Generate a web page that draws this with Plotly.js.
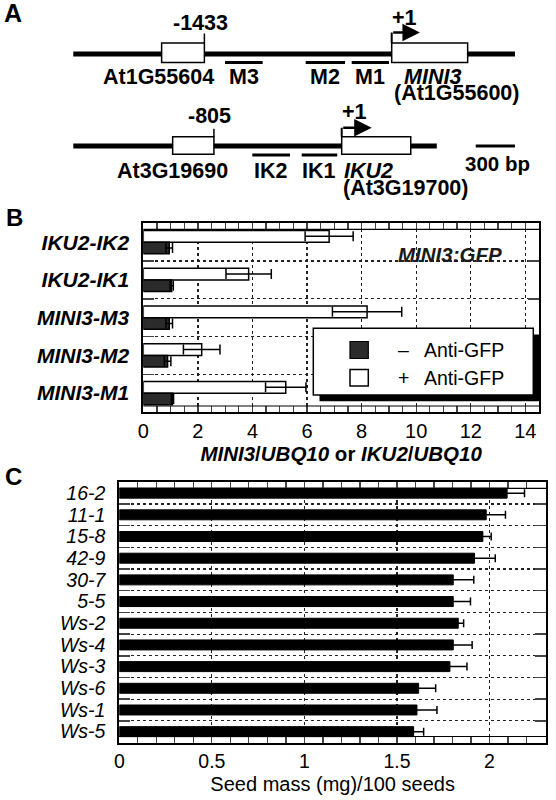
<!DOCTYPE html>
<html>
<head>
<meta charset="utf-8">
<script src="https://cdn.plot.ly/plotly-3.0.1.min.js"></script>
<style>body{margin:0;background:#fff}#plot{width:556px;height:800px}</style>
</head>
<body>
<div id="plot"></div>
<script>
// B: ChIP, +/- anti-GFP
var chipCats = ['IKU2-IK2', 'IKU2-IK1', 'MINI3-M3', 'MINI3-M2', 'MINI3-M1'];
var plusGFP = [6.81, 3.86, 8.2, 2.14, 5.22];
var plusErr = [0.88, 0.83, 1.27, 0.67, 0.74];
var minusGFP = [0.95, 1.04, 0.95, 0.89, 1.07];
var minusErr = [0.12, 0.06, 0.12, 0.12, 0.04];

// C: seed mass
var seedLines = ['16-2', '11-1', '15-8', '42-9', '30-7', '5-5', 'Ws-2', 'Ws-4', 'Ws-3', 'Ws-6', 'Ws-1', 'Ws-5'];
var seedMass = [2.095, 1.982, 1.964, 1.919, 1.804, 1.804, 1.831, 1.804, 1.786, 1.617, 1.608, 1.590];
var seedErr = [0.094, 0.104, 0.045, 0.112, 0.111, 0.093, 0.029, 0.102, 0.092, 0.092, 0.108, 0.054];

// A: bp from the +1 of each gene
var mini3Line = [-2436, 943];
var mini3Genes = ['At1G55604', 'MINI3'];
var mini3BoxStart = [-1760, 0];
var mini3BoxEnd = [-1433, 581];
var mini3Frags = ['M3', 'M2', 'M1'];
var mini3FragStart = [-1275, -658, -306];
var mini3FragEnd = [-987, -357, -21];
var mini3Arrow = 216;

var iku2Line = [-1691, 599];
var iku2Genes = ['At3G19690', 'IKU2'];
var iku2BoxStart = [-1065, 0];
var iku2BoxEnd = [-805, 435];
var iku2Frags = ['IK2', 'IK1'];
var iku2FragStart = [-563, -252];
var iku2FragEnd = [-326, -28];
var iku2Arrow = 189;
var scaleBar = [643, 943];

var F = 'Liberation Sans, Arial, Helvetica, sans-serif';
function px(v){ return v / 556; }
function py(v){ return 1 - v / 800; }

function fragTrace(starts, ends, yv, xa){
  var xs = [], ys = [];
  for (var i = 0; i < starts.length; i++){
    xs.push(starts[i], ends[i], null);
    ys.push(yv, yv, null);
  }
  return {x: xs, y: ys, xaxis: xa, yaxis: 'y3', mode: 'lines', line: {color: 'black', width: 3}, hoverinfo: 'skip'};
}

var data = [
  {type: 'bar', orientation: 'h', name: '+ Anti-GFP', y: chipCats, x: plusGFP,
   marker: {color: 'white', line: {color: 'black', width: 1.5}},
   error_x: {type: 'data', array: plusErr, color: 'black', thickness: 1.5, width: 5},
   xaxis: 'x', yaxis: 'y'},
  {type: 'bar', orientation: 'h', name: '– Anti-GFP', y: chipCats, x: minusGFP,
   marker: {color: '#2b2b2b', line: {color: 'black', width: 1.5}},
   error_x: {type: 'data', array: minusErr, color: 'black', thickness: 1.5, width: 5},
   xaxis: 'x', yaxis: 'y'},
  {type: 'bar', orientation: 'h', y: seedLines, x: seedMass, width: 0.46,
   marker: {color: 'black', line: {color: 'black', width: 1}},
   error_x: {type: 'data', array: seedErr, color: 'black', thickness: 1.5, width: 4},
   xaxis: 'x2', yaxis: 'y2'},
  {x: mini3Line, y: [54, 54], xaxis: 'x3', yaxis: 'y3', mode: 'lines', line: {color: 'black', width: 5}, hoverinfo: 'skip'},
  {x: iku2Line, y: [146, 146], xaxis: 'x4', yaxis: 'y3', mode: 'lines', line: {color: 'black', width: 5}, hoverinfo: 'skip'},
  {x: scaleBar, y: [146, 146], xaxis: 'x3', yaxis: 'y3', mode: 'lines', line: {color: 'black', width: 3}, hoverinfo: 'skip'},
  fragTrace(mini3FragStart, mini3FragEnd, 62.5, 'x3'),
  fragTrace(iku2FragStart, iku2FragEnd, 155, 'x4')
];

var shapes = [];
var ann = [];
function txt(text, xref, x, y, o){
  var a = {text: text, xref: xref, yref: xref === 'paper' ? 'paper' : 'y3', x: x, y: y, showarrow: false,
           xanchor: 'center', yanchor: 'middle',
           font: {family: F, size: 21.5, color: 'black', weight: 'bold'}};
  for (var k in o) a[k] = o[k];
  ann.push(a);
}

// gene rows
function geneRow(xa, starts, ends, top, bot, arrowY, tip){
  for (var i = 0; i < starts.length; i++){
    shapes.push({type: 'rect', xref: xa, yref: 'y3', x0: starts[i], x1: ends[i], y0: top, y1: bot,
                 fillcolor: 'white', line: {color: 'black', width: 1.5}});
  }
  // upstream gene end marker
  shapes.push({type: 'line', xref: xa, yref: 'y3', x0: ends[0], x1: ends[0], y0: top, y1: arrowY + 1, line: {color: 'black', width: 1.5}});
  // +1 arrow
  shapes.push({type: 'line', xref: xa, yref: 'y3', x0: 0, x1: 0, y0: top, y1: arrowY, line: {color: 'black', width: 2}});
  ann.push({xref: xa, yref: 'y3', axref: xa, ayref: 'y3', x: tip, y: arrowY, ax: 0, ay: arrowY, text: '',
            showarrow: true, arrowhead: 2, arrowsize: 1.4, arrowwidth: 2.5, arrowcolor: 'black', standoff: 0});
}
geneRow('x3', mini3BoxStart, mini3BoxEnd, 43, 62.5, 32.5, mini3Arrow);
geneRow('x4', iku2BoxStart, iku2BoxEnd, 136.7, 154.3, 127.7, iku2Arrow);

txt(String(mini3BoxEnd[0]), 'x3', mini3BoxEnd[0], 22.7, {xshift: -4});
txt('+1', 'x3', 0, 18.3, {xanchor: 'left', xshift: -2});
txt(mini3Genes[0], 'x3', mini3BoxEnd[0], 76.7, {xanchor: 'right', xshift: 12});
txt('<i>' + mini3Genes[1] + '</i>', 'x3', 0, 76.7, {xanchor: 'left', xshift: 10});
txt('(At1G55600)', 'x3', 0, 93.4, {xanchor: 'left', xshift: 0});
for (var i = 0; i < mini3Frags.length; i++){
  txt(mini3Frags[i], 'x3', (mini3FragStart[i] + mini3FragEnd[i]) / 2, 76.7, {});
}
txt(String(iku2BoxEnd[0]), 'x4', iku2BoxEnd[0], 116, {xshift: -4});
txt('+1', 'x4', 0, 111.7, {xanchor: 'left', xshift: -2});
txt(iku2Genes[0], 'x4', iku2BoxEnd[0], 171, {xanchor: 'right', xshift: 16});
txt('<i>' + iku2Genes[1] + '</i>', 'x4', 0, 171, {xanchor: 'left', xshift: 0});
txt('(At3G19700)', 'x4', 0, 188, {xanchor: 'left', xshift: -1});
for (var j = 0; j < iku2Frags.length; j++){
  txt(iku2Frags[j], 'x4', (iku2FragStart[j] + iku2FragEnd[j]) / 2, 171, {});
}
txt('300 bp', 'x3', (scaleBar[0] + scaleBar[1]) / 2, 163.3, {xshift: 2, font: {family: F, size: 20.5, color: 'black', weight: 'bold'}});

// tick strips along top and bottom frame
[['x', 'y', 6 / 188.7], ['x2', 'y2', 6 / 260.2]].forEach(function(s){
  [s[2], 1 - s[2]].forEach(function(f){
    shapes.push({type: 'line', xref: s[0] + ' domain', yref: s[1] + ' domain', x0: 0, x1: 1, y0: f, y1: f,
                 line: {color: 'black', width: 1.2}});
  });
});

// legend for B, drawn by hand to get the shadow
shapes.push({type: 'rect', xref: 'paper', yref: 'paper', x0: px(319.5), x1: px(539), y0: py(401.3), y1: py(334.5),
             fillcolor: 'black', line: {width: 0}});
shapes.push({type: 'rect', xref: 'paper', yref: 'paper', x0: px(313.3), x1: px(533.3), y0: py(395), y1: py(328.3),
             fillcolor: 'white', line: {color: 'black', width: 1.5}});
shapes.push({type: 'rect', xref: 'paper', yref: 'paper', x0: px(350), x1: px(368.3), y0: py(358.5), y1: py(341.5),
             fillcolor: '#2b2b2b', line: {color: 'black', width: 1.2}});
shapes.push({type: 'rect', xref: 'paper', yref: 'paper', x0: px(350), x1: px(368.3), y0: py(386), y1: py(369.5),
             fillcolor: 'white', line: {color: 'black', width: 1.5}});
var legFont = {family: F, size: 19.5, color: 'black', weight: 'normal'};
txt('–', 'paper', px(403), py(350), {font: legFont});
txt('+', 'paper', px(403), py(378), {font: legFont});
txt('Anti-GFP', 'paper', px(421.7), py(350), {xanchor: 'left', font: legFont});
txt('Anti-GFP', 'paper', px(421.7), py(378), {xanchor: 'left', font: legFont});
txt('<i>MINI3:GFP</i>', 'paper', px(450), py(255), {font: {family: F, size: 20.5, color: '#1a1a1a', weight: 'bold'}});

// panel letters
txt('A', 'paper', px(13.3), py(12.5), {font: {family: F, size: 25, color: 'black', weight: 'bold'}});
txt('B', 'paper', px(14.7), py(218), {font: {family: F, size: 24, color: 'black', weight: 'bold'}});
txt('C', 'paper', px(13), py(476), {font: {family: F, size: 24, color: 'black', weight: 'bold'}});

var frame = {showline: true, linewidth: 2, linecolor: 'black', mirror: 'allticks', zeroline: false,
             showgrid: true, griddash: 'dot', gridcolor: '#222', gridwidth: 1.3, fixedrange: true};
function ax(o){ var a = {}; for (var k in frame) a[k] = frame[k]; for (var k2 in o) a[k2] = o[k2]; return a; }

var layout = {
  width: 556, height: 800, margin: {l: 0, r: 0, t: 0, b: 0},
  paper_bgcolor: 'white', plot_bgcolor: 'white', showlegend: false,
  barmode: 'group', bargap: 0.38, bargroupgap: 0,
  font: {family: F, color: 'black'},
  xaxis: ax({domain: [px(143.3), px(539)], anchor: 'y', range: [0, 14.5], dtick: 2,
    ticks: 'inside', ticklen: 6, tickwidth: 1.3, tickfont: {size: 20},
    minor: {dtick: 0.5, ticks: 'inside', ticklen: 6, tickwidth: 1.3, showgrid: false},
    title: {text: '<i>MINI3</i>/<i>UBQ10</i> or <i>IKU2</i>/<i>UBQ10</i>', font: {size: 20.5, weight: 'bold'}, standoff: 4}}),
  yaxis: ax({domain: [py(412), py(223.3)], anchor: 'x', type: 'category', autorange: 'reversed',
    tickmode: 'linear', tick0: 0, dtick: 1,
    tickson: 'boundaries', ticks: 'inside', ticklen: 11, tickwidth: 1.5, ticklabelstandoff: 8,
    tickfont: {size: 21, weight: 'bold', style: 'italic'}}),
  xaxis2: ax({domain: [px(119.3), px(546)], anchor: 'y2', range: [0, 2.305], dtick: 0.5,
    ticks: 'inside', ticklen: 6, tickwidth: 1.2, tickfont: {size: 19.5}, gridwidth: 1.1,
    minor: {dtick: 0.1, ticks: 'inside', ticklen: 6, tickwidth: 1.2, showgrid: false},
    title: {text: 'Seed mass (mg)/100 seeds', font: {size: 20}, standoff: 6}}),
  yaxis2: ax({domain: [py(742.5), py(482.3)], anchor: 'x2', type: 'category', autorange: 'reversed',
    tickmode: 'linear', tick0: 0, dtick: 1,
    tickson: 'boundaries', ticks: 'inside', ticklen: 11, tickwidth: 1.5, ticklabelstandoff: 8, gridwidth: 1.1,
    tickfont: {size: 19.5, style: 'italic'}}),
  xaxis3: {domain: [0, 1], anchor: 'y3', range: [-2996.5, 1256.9], visible: false, fixedrange: true},
  xaxis4: {domain: [0, 1], anchor: 'y3', overlaying: 'x3', range: [-2152.7, 1350.1], visible: false, fixedrange: true},
  yaxis3: {domain: [0.75, 1], anchor: 'x3', range: [200, 0], visible: false, fixedrange: true},
  shapes: shapes,
  annotations: ann
};

Plotly.newPlot('plot', data, layout, {displayModeBar: false, staticPlot: true});
</script>
</body>
</html>
